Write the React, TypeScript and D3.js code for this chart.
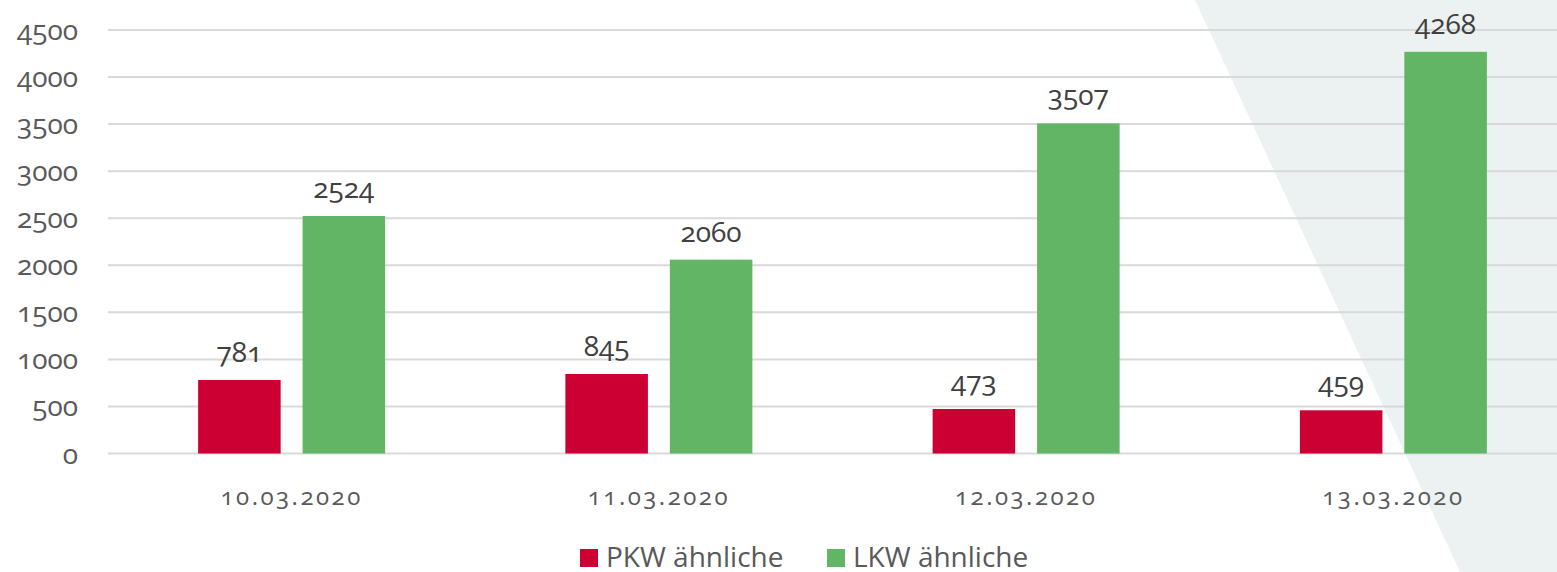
import React, { useRef, useEffect } from "react";
import * as d3 from "d3";

const dates = ["10.03.2020", "11.03.2020", "12.03.2020", "13.03.2020"];
const seriesNames = ["PKW ähnliche", "LKW ähnliche"];
const pkwValues = [781, 845, 473, 459];
const lkwValues = [2524, 2060, 3507, 4268];
const yTicks = [0, 500, 1000, 1500, 2000, 2500, 3000, 3500, 4000, 4500];
const colors = ["#cc0033", "#61b565"];

const W = 1557;
const H = 572;
const FONT = "'Open Sans', Lato, sans-serif";

const App = () => {
  const svgRef = useRef<SVGSVGElement>(null);

  useEffect(() => {
    const svg = d3.select(svgRef.current);
    svg.selectAll("*").remove();

    // background wedge on the right
    svg.append("polygon")
      .attr("points", `1195,0 ${W},0 ${W},${H} 1460,${H}`)
      .attr("fill", "#ecf2f2");

    const x0 = d3.scaleBand().domain(dates).range([108, 1577]);
    const x1 = d3.scaleBand().domain(seriesNames).range([0, 187]).paddingInner(0.21);
    const y = d3.scaleLinear().domain([0, 4500]).range([453.5, 30]);

    // gridlines
    svg.append("g")
      .selectAll("line")
      .data(yTicks)
      .join("line")
      .attr("x1", 108)
      .attr("x2", W)
      .attr("y1", (d) => y(d))
      .attr("y2", (d) => y(d))
      .attr("stroke", "#d9d9d9")
      .attr("stroke-width", 2);

    // y tick labels
    svg.append("g")
      .selectAll("text")
      .data(yTicks)
      .join("text")
      .attr("x", 78)
      .attr("y", (d) => y(d) + 10)
      .attr("text-anchor", "end")
      .attr("font-family", FONT)
      .attr("font-size", 28)
      .style("font-variant-numeric", "oldstyle-nums")
      .attr("fill", "#595959")
      .text((d) => d);

    const rows = dates.map((d, i) => ({ date: d, values: [pkwValues[i], lkwValues[i]] }));

    const groups = svg.append("g")
      .selectAll("g")
      .data(rows)
      .join("g")
      .attr("transform", (d) => `translate(${x0(d.date)! + (x0.bandwidth() - 187) / 2},0)`);

    groups.selectAll("rect")
      .data((d) => d.values.map((v, j) => ({ key: seriesNames[j], v, j })))
      .join("rect")
      .attr("x", (d) => x1(d.key)!)
      .attr("width", x1.bandwidth())
      .attr("y", (d) => y(d.v))
      .attr("height", (d) => y(0) - y(d.v))
      .attr("fill", (d) => colors[d.j]);

    groups.selectAll("text")
      .data((d) => d.values.map((v, j) => ({ key: seriesNames[j], v })))
      .join("text")
      .attr("x", (d) => x1(d.key)! + x1.bandwidth() / 2)
      .attr("y", (d) => y(d.v) - 18)
      .attr("text-anchor", "middle")
      .attr("font-family", FONT)
      .attr("font-size", 28)
      .style("font-variant-numeric", "oldstyle-nums")
      .attr("fill", "#404040")
      .text((d) => d.v);

    // x axis labels
    svg.append("g")
      .selectAll("text")
      .data(dates)
      .join("text")
      .attr("x", (d) => x0(d)! + x0.bandwidth() / 2)
      .attr("y", 505)
      .attr("text-anchor", "middle")
      .attr("font-family", FONT)
      .attr("font-size", 24)
      .attr("letter-spacing", 2.5)
      .style("font-variant-numeric", "oldstyle-nums")
      .attr("fill", "#595959")
      .text((d) => d);

    // legend
    const legendX = [580, 827];
    const legend = svg.append("g")
      .selectAll("g")
      .data(seriesNames)
      .join("g")
      .attr("transform", (d, i) => `translate(${legendX[i]},549)`);
    legend.append("rect").attr("width", 18).attr("height", 18).attr("fill", (d, i) => colors[i]);
    legend.append("text")
      .attr("x", 26)
      .attr("y", 18)
      .attr("font-family", FONT)
      .attr("font-size", 28)
      .attr("fill", "#595959")
      .text((d) => d);
  }, []);

  return (
    <div style={{ position: "absolute", left: 0, top: 0 }}>
      <svg ref={svgRef} width={W} height={H} style={{ display: "block" }}></svg>
    </div>
  );
};

export default App;
